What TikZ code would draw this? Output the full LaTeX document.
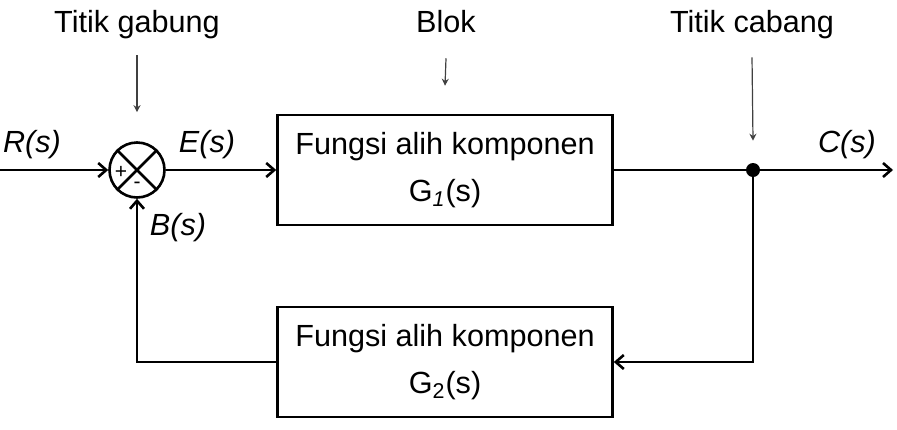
\documentclass[tikz,border=0pt]{standalone}
\usepackage{fontspec}
\setmainfont{Liberation Sans}
\usetikzlibrary{arrows.meta, positioning, calc}

\begin{document}
\begin{tikzpicture}[
    x=0.5pt, y=-0.5pt,
    line width=1.3pt,
    block/.style={draw, rectangle, minimum width=167.5pt, minimum height=55pt, inner sep=0pt, align=center, font=\fontsize{15.3}{23.5}\selectfont},
    sum/.style={draw, circle, minimum size=27.5pt, inner sep=0pt},
    dot/.style={fill, circle, minimum size=7pt, inner sep=0pt},
    sign/.style={inner sep=0pt, font=\fontsize{10.5}{10.5}\selectfont},
    sig/.style={anchor=base, font=\fontsize{15.3}{18}\selectfont\itshape},
    note/.style={anchor=base, font=\fontsize{15.3}{18}\selectfont},
    line/.style={draw, -{Straight Barb[length=4pt, width=7pt]}},
    pointer/.style={draw, line width=0.6pt, black!75, -{Stealth[length=3.5pt, width=3.5pt]}}
]
    \useasboundingbox (0,0) rectangle (897,429);

    % Nodes
    \coordinate (in) at (0,170);
    \node[sum] (sum) at (137,170) {};
    \node[block] (g1) at (445,170) {Fungsi alih komponen\\G\textsubscript{\itshape 1}(s)};
    \node[dot] (branch) at (753,170) {};
    \coordinate (out) at (893,170);
    \node[block] (g2) at (445,362) {Fungsi alih komponen\\G\textsubscript{2}(s)};

    % Summing junction
    \draw (sum.45) -- (sum.225);
    \draw (sum.135) -- (sum.-45);
    \node[sign] (plus) at (121,172) {+};
    \node[sign] (minus) at (137,185) {-};

    % Signals
    \node[sig] (r) at (32,152) {R(s)};
    \node[sig] (e) at (207,152) {E(s)};
    \node[sig] (b) at (178,235) {B(s)};
    \node[sig] (c) at (847,152) {C(s)};

    % Lines
    \draw[line] (in) -- (sum.west);
    \draw[line] (sum.east) -- (g1.west);
    \draw (g1.east) -- (branch.center);
    \draw[line] (branch.center) -- (out);
    \draw[line] (branch.center) |- (g2.east);
    \draw[line] (g2.west) -| (sum.south);

    % Notes
    \node[note] (gabung) at (137,32) {Titik gabung};
    \node[note] (blok) at (446,32) {Blok};
    \node[note] (cabang) at (752,32) {Titik cabang};
    \draw[pointer] ($(gabung.south)+(0,9)$) -- ($(sum.north)+(0,-29)$);
    \draw[pointer] ($(blok.south)+(0,18)$) -- ($(g1.north)+(0,-28)$);
    \draw[pointer] ($(cabang.south)+(0,11)$) -- ($(branch.north)+(0,-21)$);
\end{tikzpicture}
\end{document}
